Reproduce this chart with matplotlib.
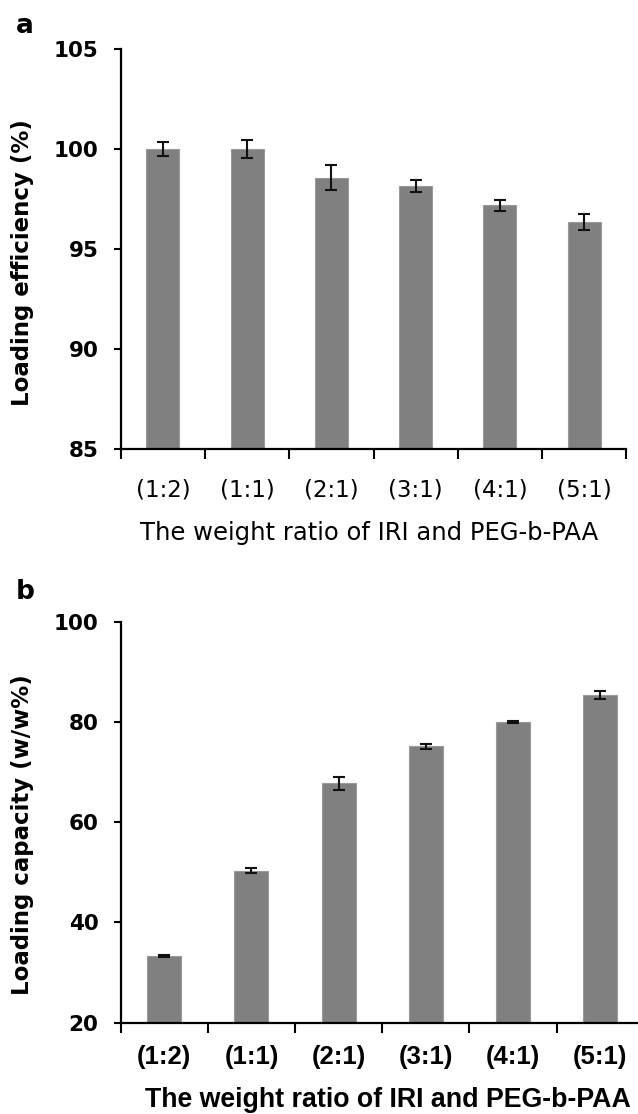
import numpy as np
import matplotlib
matplotlib.use("Agg")
import matplotlib.pyplot as plt

# data
ratios = ["(1:2)", "(1:1)", "(2:1)", "(3:1)", "(4:1)", "(5:1)"]
efficiency = [100.0, 100.0, 98.56, 98.15, 97.18, 96.36]
efficiency_err = [0.35, 0.44, 0.63, 0.29, 0.29, 0.39]
capacity = [33.3, 50.3, 67.8, 75.1, 80.0, 85.4]
capacity_err = [0.15, 0.5, 1.3, 0.5, 0.15, 0.8]

bar_color = "#808080"
x = np.arange(len(ratios))

fig = plt.figure(figsize=(6.38, 11.14), dpi=100)
ax_a = fig.add_axes([0.1892, 0.5969, 0.7925, 0.3591])
ax_b = fig.add_axes([0.1892, 0.0820, 0.8197, 0.3600])


def draw_panel(ax, vals, errs, ylim, yticks, tick_font, tick_pad,
               xlabel_font, label_pos, ylabel):
    ax.bar(x, vals, width=0.39, color=bar_color, edgecolor="#9a9a9a", linewidth=0.8,
           yerr=errs, capsize=4.3, error_kw=dict(ecolor="#111111", elinewidth=1.5, capthick=1.5))
    ax.set_xlim(-0.5, 5.5)
    ax.set_ylim(*ylim)
    ax.set_yticks(yticks)
    ax.set_yticklabels([str(v) for v in yticks], family="DejaVu Sans", fontweight="bold", fontsize=15.5)
    # category labels without marks, marks on category borders
    ax.set_xticks(x)
    ax.set_xticklabels(ratios, **tick_font)
    ax.set_xticks(np.arange(-0.5, 6.0, 1.0), minor=True)
    ax.tick_params(axis="x", which="major", length=0, pad=tick_pad)
    ax.tick_params(axis="x", which="minor", length=7, width=1.5, direction="out")
    ax.tick_params(axis="y", length=5, width=1.5, direction="out", pad=11)
    for side in ["top", "right"]:
        ax.spines[side].set_visible(False)
    for side in ["left", "bottom"]:
        ax.spines[side].set_linewidth(1.6)
    ax.set_xlabel("The weight ratio of IRI and PEG-b-PAA", **xlabel_font)
    ax.xaxis.set_label_coords(*label_pos)
    ax.set_ylabel(ylabel, family="DejaVu Sans", fontweight="bold", fontsize=16.5)


draw_panel(ax_a, efficiency, efficiency_err, (85, 105), [85, 90, 95, 100, 105],
           dict(family="DejaVu Sans", fontsize=16.5), 21,
           dict(family="DejaVu Sans", fontsize=17.5), (0.491, -0.18),
           "Loading efficiency (%)")

draw_panel(ax_b, capacity, capacity_err, (20, 100), [20, 40, 60, 80, 100],
           dict(family="Liberation Sans", fontweight="bold", fontsize=18.5), 16,
           dict(family="Liberation Sans", fontweight="bold", fontsize=19.3), (0.511, -0.16),
           "Loading capacity (w/w%)")

ax_a.yaxis.set_label_coords(-0.171, 0.465)
ax_b.yaxis.set_label_coords(-0.165, 0.47)

fig.text(25 / 638, 1 - 26 / 1114, "a", family="DejaVu Sans", fontweight="bold",
         fontsize=19, ha="center", va="center")
fig.text(25 / 638, 1 - 592 / 1114, "b", family="DejaVu Sans", fontweight="bold",
         fontsize=19, ha="center", va="center")

fig.savefig("out.png", dpi=100)
